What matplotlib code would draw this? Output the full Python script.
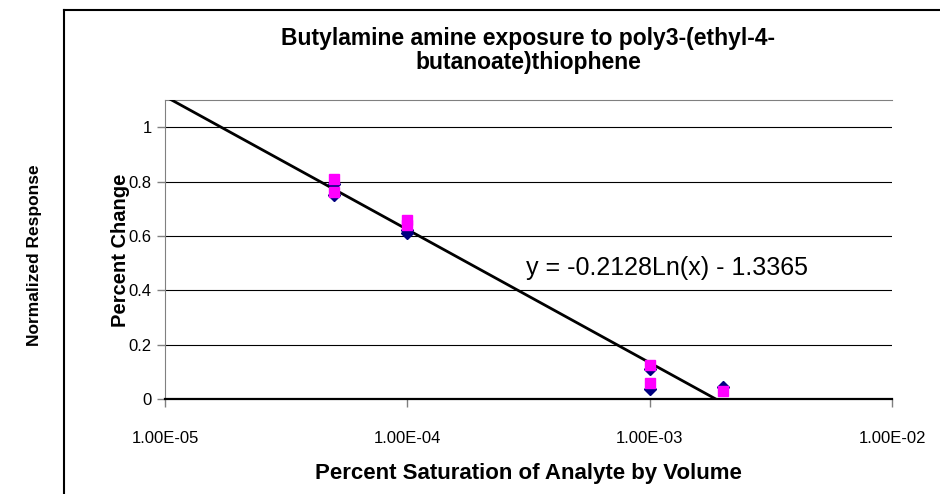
import matplotlib
matplotlib.use('Agg')
import matplotlib.pyplot as plt
from matplotlib.lines import Line2D
import numpy as np

plt.rcParams['font.family'] = ['Liberation Sans', 'DejaVu Sans']

# concentrations (fraction of saturation) and responses for the two runs
conc = [5e-5, 5e-5, 1e-4, 1e-4, 1e-3, 1e-3, 2e-3]
run_blue = [0.79, 0.75, 0.62, 0.61, 0.11, 0.035, 0.045]
run_pink = [0.81, 0.76, 0.66, 0.64, 0.125, 0.06, 0.03]

# logarithmic fit y = a*ln(x) + b
fit_a = -0.2128
fit_b = -1.3365

y_ticks = [0, 0.2, 0.4, 0.6, 0.8, 1]
x_ticks = [1e-5, 1e-4, 1e-3, 1e-2]
x_ticklabels = ['1.00E-05', '1.00E-04', '1.00E-03', '1.00E-02']

fig = plt.figure(figsize=(9.4, 4.94), dpi=100)
ax = fig.add_axes([0.1755, 0.1923, 0.949 - 0.1755, 0.7976 - 0.1923])

# outer chart frame (only left and top edges visible)
fig.add_artist(Line2D([0.068, 0.068], [0.0, 0.9798], transform=fig.transFigure,
                      color='black', lw=1.5))
fig.add_artist(Line2D([0.068, 1.0], [0.9798, 0.9798], transform=fig.transFigure,
                      color='black', lw=1.5))

ax.set_xscale('log')
ax.set_xlim(1e-5, 1e-2)
ax.set_ylim(0, 1.1)

for yv in y_ticks[1:]:
    ax.axhline(yv, color='black', lw=0.8, zorder=1)

# trendline, stopping where it crosses zero
x_end = np.exp(-fit_b / fit_a)
xs = np.logspace(-5, np.log10(x_end), 100)
ax.plot(xs, fit_a * np.log(xs) + fit_b, color='black', lw=2.0, zorder=3)

ax.plot(conc, run_blue, linestyle='none', marker='D', ms=6, color='#000080',
        markeredgecolor='#000080', zorder=4)
ax.plot(conc, run_pink, linestyle='none', marker='s', ms=6.5, color='#FF00FF',
        markeredgecolor='#FF00FF', zorder=5)

ax.text(3.1e-4, 0.482, 'y = -0.2128Ln(x) - 1.3365', fontsize=18, ha='left',
        va='center')

ax.set_yticks(y_ticks)
ax.set_yticklabels(['0', '0.2', '0.4', '0.6', '0.8', '1'])
ax.set_xticks(x_ticks)
ax.set_xticklabels(x_ticklabels)
ax.minorticks_off()
ax.tick_params(axis='both', direction='out', length=6, width=1, labelsize=12,
               color='#808080')
ax.tick_params(axis='x', pad=17)

ax.spines['right'].set_visible(False)
ax.spines['top'].set_color('#808080')
ax.spines['left'].set_color('#808080')
ax.spines['bottom'].set_color('black')
ax.spines['bottom'].set_linewidth(1.6)

# titles and axis labels
fig.text(0.5617, 1 - 38 / 494, 'Butylamine amine exposure to poly3-(ethyl-4-',
         fontsize=16.5, fontweight='bold', ha='center', va='center')
fig.text(0.5617, 1 - 62 / 494, 'butanoate)thiophene',
         fontsize=16.5, fontweight='bold', ha='center', va='center')
fig.text(0.5617, 1 - 473 / 494, 'Percent Saturation of Analyte by Volume',
         fontsize=16, fontweight='bold', ha='center', va='center')
fig.text(120 / 940, 1 - 250 / 494, 'Percent Change', rotation=90, fontsize=14.5,
         fontweight='bold', ha='center', va='center')
fig.text(35 / 940, 1 - 255 / 494, 'Normalized Response', rotation=90,
         fontsize=12.5, fontweight='bold', ha='center', va='center')

fig.savefig('out.png', dpi=100)
